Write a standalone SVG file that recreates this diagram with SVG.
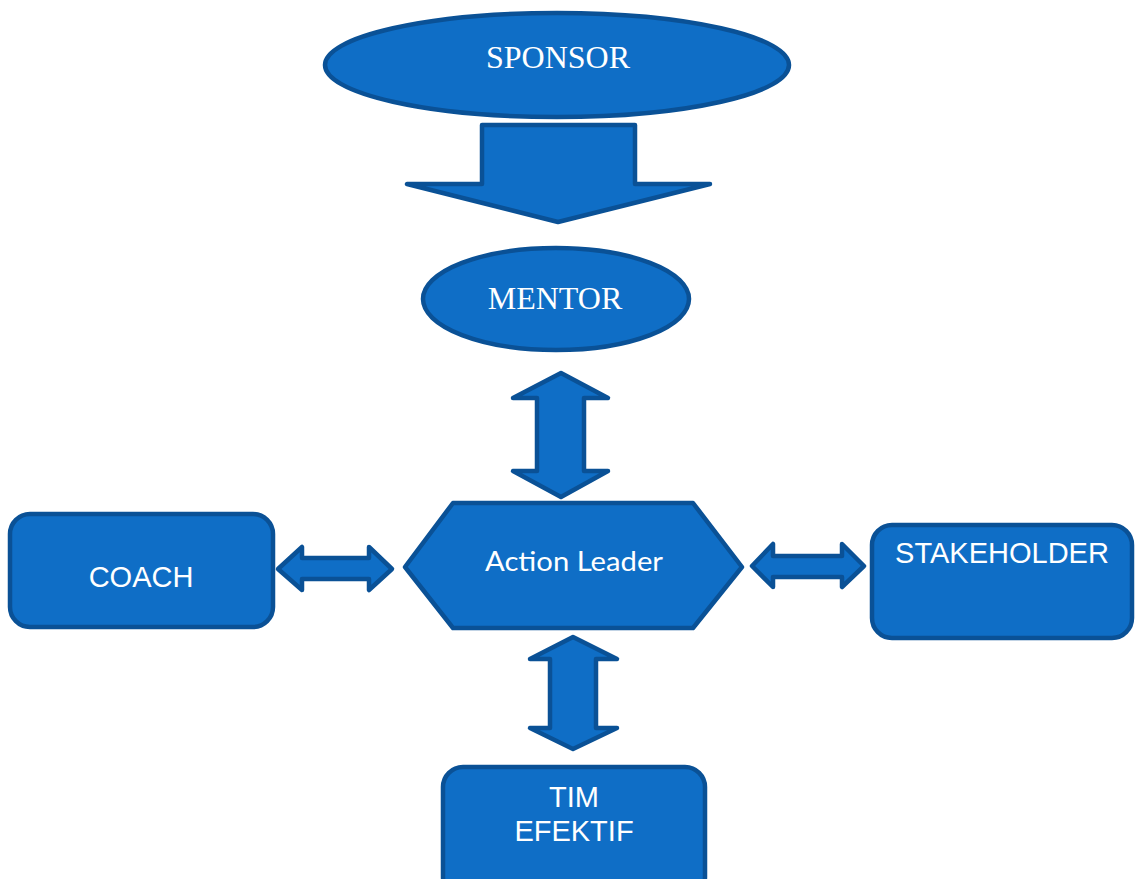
<svg xmlns="http://www.w3.org/2000/svg" width="1140" height="879" viewBox="0 0 1140 879">
<style>
.shape{fill:#0F6EC6;stroke:#0A5196;stroke-width:4.5;stroke-linejoin:round}
.serif{font-family:"Liberation Serif","Times New Roman",serif;font-size:32px;fill:#fff;text-anchor:middle}
.sans{font-family:"Liberation Sans",Arial,sans-serif;font-size:29px;fill:#fff;text-anchor:middle}
.cal{font-family:Lato,"Open Sans",sans-serif;font-size:27px;fill:#fff;text-anchor:middle}
</style>
<rect width="1140" height="879" fill="#fff"/>
<g id="connectors">
<polygon class="shape" points="482,125 635,125 635,184 710,184 558,222 407,184 482,184"/>
<polygon class="shape" points="561,373 608,398 584,398 584,471 608,471 561,497 513,471 537,471 537,398 513,398"/>
<polygon class="shape" points="278,569 302,547 302,558 369,558 369,547 392,569 369,590 369,579 302,579 302,590"/>
<polygon class="shape" points="752,566 773,544 773,556 842,556 842,544 864,566 842,587 842,577 773,577 773,587"/>
<polygon class="shape" points="573,637 617,659 596,659 596,728 617,728 573,749 530,728 550,728 550,659 530,659"/>
</g>
<g id="sponsor">
<ellipse class="shape" cx="557" cy="65" rx="232" ry="52"/>
<text class="serif" x="558" y="68">SPONSOR</text>
</g>
<g id="mentor">
<ellipse class="shape" cx="556" cy="299" rx="133" ry="51"/>
<text class="serif" x="555" y="309">MENTOR</text>
</g>
<g id="action-leader">
<polygon class="shape" points="405,567 453,503 693,503 742,567 693,628 453,628"/>
<text class="cal" x="574" y="571" textLength="178" lengthAdjust="spacingAndGlyphs">Action Leader</text>
</g>
<g id="coach">
<rect class="shape" x="10" y="514" width="263" height="113" rx="20"/>
<text class="sans" x="141" y="587">COACH</text>
</g>
<g id="stakeholder">
<rect class="shape" x="872" y="525" width="260" height="113" rx="20"/>
<text class="sans" x="1002" y="563">STAKEHOLDER</text>
</g>
<g id="tim-efektif">
<rect class="shape" x="443" y="767" width="262" height="130" rx="20"/>
<text class="sans" x="574" y="807">TIM</text>
<text class="sans" x="574" y="841">EFEKTIF</text>
</g>
</svg>
